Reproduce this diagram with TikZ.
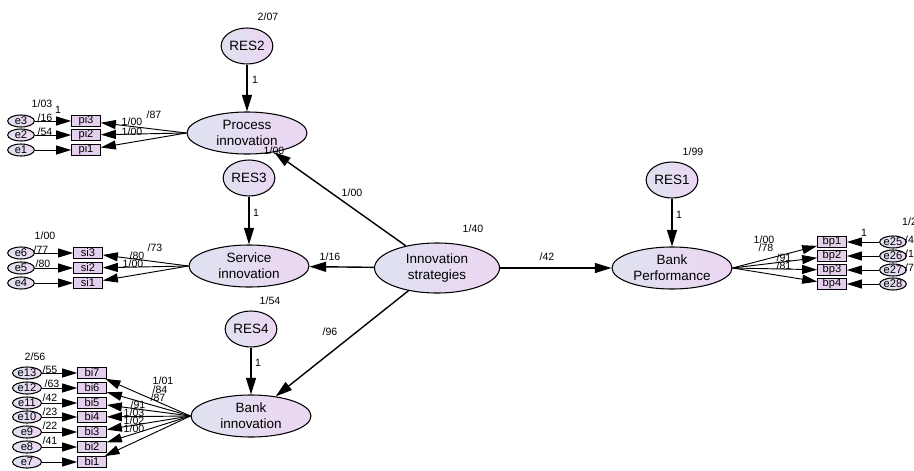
\documentclass[tikz,border=0pt]{standalone}
\usepackage{fontspec}
\setmainfont{Liberation Sans}
\usetikzlibrary{shapes.geometric,arrows.meta}
\definecolor{latleft}{RGB}{222,226,240}
\definecolor{latright}{RGB}{236,214,242}
\definecolor{boxfill}{RGB}{228,208,236}

\begin{document}
\begin{tikzpicture}[x=0.03cm, y=-0.03cm,
    lat/.style={ellipse, draw, line width=0.9pt, left color=latleft, right color=latright,
      minimum width=3.6cm, minimum height=1.26cm, inner sep=0pt, align=center,
      font=\fontsize{11.5}{13.5}\selectfont},
    res/.style={lat, minimum width=1.55cm, minimum height=1.08cm},
    err/.style={ellipse, draw, line width=0.9pt, left color=latleft, right color=latright,
      minimum width=0.8cm, minimum height=0.36cm, inner sep=0pt, font=\fontsize{9.5}{9.5}\selectfont},
    obs/.style={rectangle, draw, line width=0.9pt, fill=boxfill, minimum width=0.86cm,
      minimum height=0.32cm, inner sep=0pt, font=\fontsize{9.5}{9.5}\selectfont},
    est/.style={inner sep=0pt, font=\fontsize{9}{9}\selectfont},
    regpath/.style={line width=1.2pt, -{Triangle[length=0.5cm, width=0.3cm]}},
    loadpath/.style={line width=0.8pt, -{Triangle[length=0.45cm, width=0.27cm]}}]

  \useasboundingbox (0,0) rectangle (914,470);

  % latent variables
  \node[res] (res2) at (247,46) {RES2};
  \node[lat] (proc) at (247,133) {Process\\innovation};
  \node[res] (res3) at (249,178) {RES3};
  \node[lat] (serv) at (249,266) {Service\\innovation};
  \node[res] (res4) at (251,329) {RES4};
  \node[lat] (bankinn) at (251,416) {Bank\\innovation};
  \node[lat, minimum width=3.75cm, minimum height=1.5cm] (strat) at (437,268) {Innovation\\strategies};
  \node[res] (res1) at (672,180) {RES1};
  \node[lat] (perf) at (672,268) {Bank\\Performance};

  \draw[regpath] (res2) -- (proc);
  \draw[regpath] (res3) -- (serv);
  \draw[regpath] (res4) -- (bankinn);
  \draw[regpath] (res1) -- (perf);
  \draw[regpath] (strat) -- (proc);
  \draw[regpath] (strat) -- (serv);
  \draw[regpath] (strat) -- (bankinn);
  \draw[regpath] (strat) -- (perf);

  % process innovation items
  \foreach \i/\y in {3/121,2/135,1/150} {
    \node[err] (e\i) at (21,\y) {e\i};
    \node[obs] (pi\i) at (86,\y) {pi\i};
    \draw[loadpath] (e\i) -- (pi\i);
    \draw[loadpath] (proc.west) -- (pi\i);
  }

  % service innovation items
  \foreach \e/\i/\y in {6/3/253,5/2/268,4/1/283} {
    \node[err] (e\e) at (21,\y) {e\e};
    \node[obs] (si\i) at (88,\y) {si\i};
    \draw[loadpath] (e\e) -- (si\i);
    \draw[loadpath] (serv.west) -- (si\i);
  }

  % bank innovation items
  \foreach \e/\i/\y in {13/7/373,12/6/388,11/5/403,10/4/417,9/3/432,8/2/447,7/1/462} {
    \node[err, minimum width=0.87cm] (e\e) at (27,\y) {e\e};
    \node[obs] (bi\i) at (92,\y) {bi\i};
    \draw[loadpath] (e\e) -- (bi\i);
    \draw[loadpath] (bankinn.west) -- (bi\i);
  }

  % bank performance items
  \foreach \i/\e/\y in {1/25/242,2/26/256,3/27/270,4/28/284} {
    \node[obs] (bp\i) at (832,\y) {bp\i};
    \node[err] (e\e) at (893,\y) {e\e};
    \draw[loadpath] (e\e) -- (bp\i);
    \draw[loadpath] (perf.east) -- (bp\i);
  }

  % estimates
  \node[est] (v207) at (268,17) {2/07};
  \node[est] (w1a) at (255,80) {1};
  \node[est] (v100a) at (274,151) {1/00};
  \node[est] (w1b) at (256,213) {1};
  \node[est] (b100) at (352,193) {1/00};
  \node[est] (b116) at (330,257) {1/16};
  \node[est] (v154) at (270,301) {1/54};
  \node[est] (w1c) at (258,363) {1};
  \node[est] (b96) at (330,332) {/96};
  \node[est] (v140) at (473,229) {1/40};
  \node[est] (b42) at (547,257) {/42};
  \node[est] (v199) at (693,152) {1/99};
  \node[est] (w1d) at (679,215) {1};

  \node[est] (ve3) at (42,104) {1/03};
  \node[est] (we3) at (58,110) {1};
  \node[est] (r16) at (45,118) {/16};
  \node[est] (r54) at (45,132) {/54};
  \node[est] (l87) at (154,115) {/87};
  \node[est] (l100a) at (132,122) {1/00};
  \node[est] (l100b) at (132,132) {1/00};

  \node[est] (ve6) at (45,236) {1/00};
  \node[est] (r77) at (41,250) {/77};
  \node[est] (r80) at (43,264) {/80};
  \node[est] (l73) at (155,248) {/73};
  \node[est] (l80) at (137,256) {/80};
  \node[est] (l100c) at (133,264) {1/00};

  \node[est] (ve13) at (35,357) {2/56};
  \node[est] (r55) at (50,370) {/55};
  \node[est] (r63) at (52,384) {/63};
  \node[est] (r42) at (50,398) {/42};
  \node[est] (r23) at (50,412) {/23};
  \node[est] (r22) at (50,426) {/22};
  \node[est] (r41) at (50,441) {/41};
  \node[est] (l101) at (163,381) {1/01};
  \node[est] (l84) at (160,390) {/84};
  \node[est] (l87b) at (158,398) {/87};
  \node[est] (l91) at (138,405) {/91};
  \node[est] (l103) at (134,413) {1/03};
  \node[est] (l102) at (134,421) {1/02};
  \node[est] (l100d) at (134,429) {1/00};

  \node[est] (l100e) at (764,240) {1/00};
  \node[est] (l78) at (766,248) {/78};
  \node[est] (l91b) at (784,258) {/91};
  \node[est] (l81) at (784,266) {/81};
  \node[est] (we25) at (864,233) {1};
  \node[est, anchor=west] (ve25) at (902,222) {1/2};
  \node[est, anchor=west] (r4) at (905,240) {/4};
  \node[est, anchor=west] (r1) at (905,254) {/1};
  \node[est, anchor=west] (r7) at (905,268) {/7};
\end{tikzpicture}
\end{document}
